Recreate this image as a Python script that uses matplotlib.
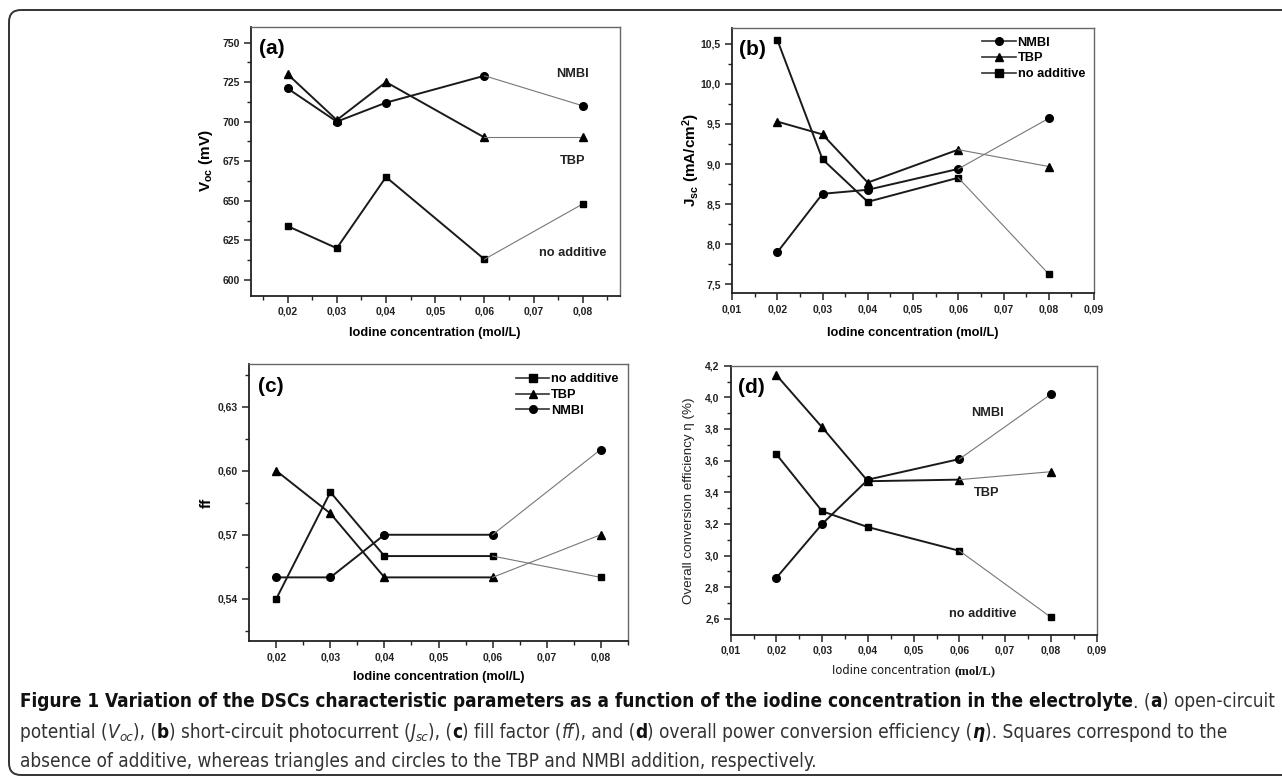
import matplotlib
matplotlib.use("Agg")
import matplotlib.pyplot as plt
from matplotlib.lines import Line2D
from matplotlib.patches import FancyBboxPatch
from matplotlib import font_manager

# iodine concentrations (mol/L)
conc = [0.02, 0.03, 0.04, 0.06, 0.08]

# (a) open-circuit potential, mV
voc_nmbi = [721, 700, 712, 729, 710]
voc_tbp = [730, 701, 725, 690, 690]
voc_none = [634, 620, 665, 613, 648]

# (b) short-circuit photocurrent, mA/cm2
jsc_nmbi = [7.90, 8.63, 8.68, 8.94, 9.57]
jsc_tbp = [9.53, 9.37, 8.77, 9.18, 8.97]
jsc_none = [10.55, 9.06, 8.53, 8.83, 7.63]

# (c) fill factor
ff_none = [0.54, 0.59, 0.56, 0.56, 0.55]
ff_tbp = [0.60, 0.58, 0.55, 0.55, 0.57]
ff_nmbi = [0.55, 0.55, 0.57, 0.57, 0.61]

# (d) efficiency, %
eta_tbp = [4.14, 3.81, 3.47, 3.48, 3.53]
eta_nmbi = [2.86, 3.20, 3.48, 3.61, 4.02]
eta_none = [3.64, 3.28, 3.18, 3.03, 2.61]

# ticks
xt_ac = [0.02, 0.03, 0.04, 0.05, 0.06, 0.07, 0.08]
xt_bd = [0.01, 0.02, 0.03, 0.04, 0.05, 0.06, 0.07, 0.08, 0.09]
yt_a = [600, 625, 650, 675, 700, 725, 750]
yt_b = [7.5, 8.0, 8.5, 9.0, 9.5, 10.0, 10.5]
yt_c = [0.54, 0.57, 0.60, 0.63]
yt_d = [2.6, 2.8, 3.0, 3.2, 3.4, 3.6, 3.8, 4.0, 4.2]

# look for a condensed face for the caption
NARROW = {"family": ["Liberation Sans", "DejaVu Sans"]}
for f in font_manager.fontManager.ttflist:
    st = f.stretch
    if "Narrow" in f.name or "Condensed" in f.name or st in ("condensed", "semi-condensed", 500 - 125, 375):
        NARROW = {"family": [f.name, "DejaVu Sans"], "stretch": st}
        break

plt.rcParams["font.family"] = ["Liberation Sans", "DejaVu Sans"]
plt.rcParams["mathtext.fontset"] = "custom"
plt.rcParams["mathtext.rm"] = "Liberation Sans"
plt.rcParams["mathtext.it"] = "Liberation Sans:italic"
plt.rcParams["mathtext.bf"] = "Liberation Sans:bold"

W, H = 1282, 781
fig = plt.figure(figsize=(W / 100, H / 100), dpi=100)
LBL = 9.2  # legend / annotation size


def px_axes(l, t, r, b):
    return fig.add_axes([l / W, 1 - b / H, (r - l) / W, (b - t) / H])


def comma(vals, fmt):
    return [fmt.format(v).replace(".", ",") for v in vals]


def style_axes(ax, xt, xfmt, yt, yfmt, xminor, yminor):
    ax.set_xticks(xt)
    ax.set_xticklabels(comma(xt, xfmt))
    ax.set_yticks(yt)
    ax.set_yticklabels(comma(yt, yfmt))
    ax.set_xticks(xminor, minor=True)
    ax.set_yticks(yminor, minor=True)
    ax.tick_params(which="major", direction="out", length=5, width=1.1,
                   labelsize=7.5, color="#222222", pad=3)
    ax.tick_params(which="minor", direction="out", length=3, width=1.0,
                   color="#222222")
    for lab in ax.get_xticklabels() + ax.get_yticklabels():
        lab.set_fontweight("bold")
        lab.set_color("#222222")
    for side in ["left", "bottom"]:
        ax.spines[side].set_linewidth(1.3)
        ax.spines[side].set_color("#222222")
    for side in ["top", "right"]:
        ax.spines[side].set_linewidth(1.0)
        ax.spines[side].set_color("#666666")


def series(ax, y, marker, ms=5.5):
    ax.plot(conc[:4], y[:4], color="#1a1a1a", lw=1.4, marker=marker, ms=ms,
            mfc="black", mec="black", zorder=3)
    ax.plot(conc[3:], y[3:], color="#777777", lw=0.8, marker=marker, ms=ms,
            mfc="black", mec="black", markevery=[1], zorder=3)


def handle(marker):
    return Line2D([], [], color="#333333", lw=1.2, marker=marker, ms=5.5,
                  mfc="black", mec="black")


def minor_range(lo, hi, step):
    out = []
    v = lo
    while v <= hi + 1e-9:
        out.append(round(v, 6))
        v += step
    return out


def note(ax, x, y, s):
    ax.text(x, y, s, fontsize=LBL, fontweight="bold", ha="center",
            va="center", color="#222222")


def leg(ax, handles, labels):
    ax.legend(handles, labels, loc="upper right", frameon=False,
              prop={"weight": "bold", "size": LBL}, handlelength=2.6,
              handletextpad=0.15, labelspacing=0.3, borderaxespad=0.3,
              bbox_to_anchor=(1.0, 1.0))


# ---- (a) ----
ax = px_axes(250.7, 26.7, 619.7, 295.7)
series(ax, voc_nmbi, "o")
series(ax, voc_tbp, "^", 6)
series(ax, voc_none, "s", 5)
ax.set_xlim(0.0125, 0.0875)
ax.set_ylim(590, 760)
style_axes(ax, xt_ac, "{:.2f}", yt_a, "{:.0f}",
           minor_range(0.015, 0.085, 0.005), minor_range(600, 750, 12.5))
ax.text(0.022, 0.955, "(a)", transform=ax.transAxes, fontsize=15,
        fontweight="bold", va="top", ha="left")
note(ax, 0.0779, 730, "NMBI")
note(ax, 0.0779, 675, "TBP")
note(ax, 0.0779, 617, "no additive")
ax.set_ylabel(r"V$_{\mathbf{oc}}$ (mV)", fontsize=11, fontweight="bold", labelpad=5)
ax.set_xlabel("Iodine concentration (mol/L)", fontsize=9.2, fontweight="bold", labelpad=7)

# ---- (b) ----
ax = px_axes(732, 27.7, 1094, 293.3)
series(ax, jsc_nmbi, "o")
series(ax, jsc_tbp, "^", 6)
series(ax, jsc_none, "s", 5)
ax.set_xlim(0.01, 0.09)
ax.set_ylim(7.39, 10.70)
style_axes(ax, xt_bd, "{:.2f}", yt_b, "{:.1f}",
           minor_range(0.015, 0.085, 0.01), minor_range(7.75, 10.5, 0.5))
ax.text(0.02, 0.955, "(b)", transform=ax.transAxes, fontsize=15,
        fontweight="bold", va="top", ha="left")
leg(ax, [handle("o"), handle("^"), handle("s")], ["NMBI", "TBP", "no additive"])
ax.set_ylabel(r"J$_{\mathbf{sc}}$ (mA/cm$^{\mathbf{2}}$)", fontsize=11, fontweight="bold", labelpad=-1)
ax.set_xlabel("Iodine concentration (mol/L)", fontsize=9.2, fontweight="bold", labelpad=9)

# ---- (c) ----
ax = px_axes(249.3, 364.3, 627.7, 641.3)
series(ax, ff_none, "s", 5)
series(ax, ff_tbp, "^", 6)
series(ax, ff_nmbi, "o")
ax.set_xlim(0.015, 0.085)
ax.set_ylim(0.52, 0.65)
style_axes(ax, xt_ac, "{:.2f}", yt_c, "{:.2f}",
           minor_range(0.025, 0.085, 0.01), minor_range(0.525, 0.645, 0.015))
ax.text(0.022, 0.955, "(c)", transform=ax.transAxes, fontsize=15,
        fontweight="bold", va="top", ha="left")
leg(ax, [handle("s"), handle("^"), handle("o")], ["no additive", "TBP", "NMBI"])
ax.set_ylabel("ff", fontsize=11, fontweight="bold", labelpad=3)
ax.set_xlabel("Iodine concentration (mol/L)", fontsize=9.2, fontweight="bold", labelpad=6)

# ---- (d) ----
ax = px_axes(730.7, 365.7, 1096.7, 634.7)
series(ax, eta_tbp, "^", 6)
series(ax, eta_nmbi, "o")
series(ax, eta_none, "s", 5)
ax.set_xlim(0.01, 0.09)
ax.set_ylim(2.5, 4.2)
style_axes(ax, xt_bd, "{:.2f}", yt_d, "{:.1f}",
           minor_range(0.015, 0.085, 0.01), minor_range(2.7, 4.1, 0.2))
ax.text(0.02, 0.955, "(d)", transform=ax.transAxes, fontsize=15,
        fontweight="bold", va="top", ha="left")
note(ax, 0.0662, 3.90, "NMBI")
note(ax, 0.066, 3.395, "TBP")
note(ax, 0.065, 2.63, "no additive")
ax.set_ylabel("Overall conversion efficiency η (%)", fontsize=9.6, labelpad=7, color="#222222")

renderer = fig.canvas.get_renderer()


def draw_runs(x, y, runs, size, measure_only=False, color="#1a1a1a"):
    # runs: (text, dict) drawn one after another on a baseline in pixels
    x0 = x
    for txt, kw in runs:
        kw = dict(kw)
        scale = kw.pop("scale", 1.0)
        dy = kw.pop("dy", 0.0)
        font = kw.pop("font", NARROW)
        col = "#111111" if kw.get("weight") == "bold" else color
        t = fig.text(x / W, 1 - (y + dy) / H, txt, fontsize=size * scale,
                     va="baseline", ha="left", color=col, **font, **kw)
        bb = t.get_window_extent(renderer)
        x += bb.width
        if measure_only:
            t.remove()
    return x - x0


# (d) x label: sans + serif unit, fitted to the reference width
SERIF = {"family": ["Liberation Serif", "DejaVu Serif"]}
xl_runs = [("Iodine concentration ", {"weight": "normal"}),
           ("(mol/L)", {"font": SERIF, "weight": "bold"})]
wd = draw_runs(0, 0, xl_runs, 10, measure_only=True)
xl_size = min(11.0, 10 * 163 / wd)
wd = draw_runs(0, 0, xl_runs, xl_size, measure_only=True)
draw_runs(913.7 - wd / 2, 674, xl_runs, xl_size)

# caption
B = {"weight": "bold"}
N = {"weight": "normal"}
I = {"style": "italic"}
SUB = {"style": "italic", "scale": 0.7, "dy": 3}
line1 = [
    ("Figure 1 Variation of the DSCs characteristic parameters as a function of the iodine concentration in the electrolyte", B),
    (". (", N), ("a", B), (") open-circuit", N)]
line2 = [
    ("potential (", N), ("V", I), ("oc", SUB), ("), (", N), ("b", B),
    (") short-circuit photocurrent (", N), ("J", I), ("sc", SUB), ("), (", N),
    ("c", B), (") fill factor (", N), ("ff", I), ("), and (", N), ("d", B),
    (") overall power conversion efficiency (", N), ("η", {"style": "italic", "weight": "bold"}),
    ("). Squares correspond to the", N)]
line3 = [("absence of additive, whereas triangles and circles to the TBP and NMBI addition, respectively.", N)]

w1 = draw_runs(0, 0, line1, 13.5, measure_only=True)
cap_size = min(14.0, 13.5 * 1255 / w1)
draw_runs(20, 707, line1, cap_size, color="#333333")
draw_runs(20, 738, line2, cap_size, color="#333333")
draw_runs(20, 767, line3, cap_size, color="#333333")

# rounded frame, open to the right (inches)
frame = FancyBboxPatch((0.09, 0.06), 13.2, 7.65,
                       boxstyle="round,pad=0,rounding_size=0.12",
                       transform=fig.dpi_scale_trans, fill=False,
                       edgecolor="#333333", lw=1.4, clip_on=False)
fig.patches.append(frame)

fig.savefig("out.png", dpi=100)
